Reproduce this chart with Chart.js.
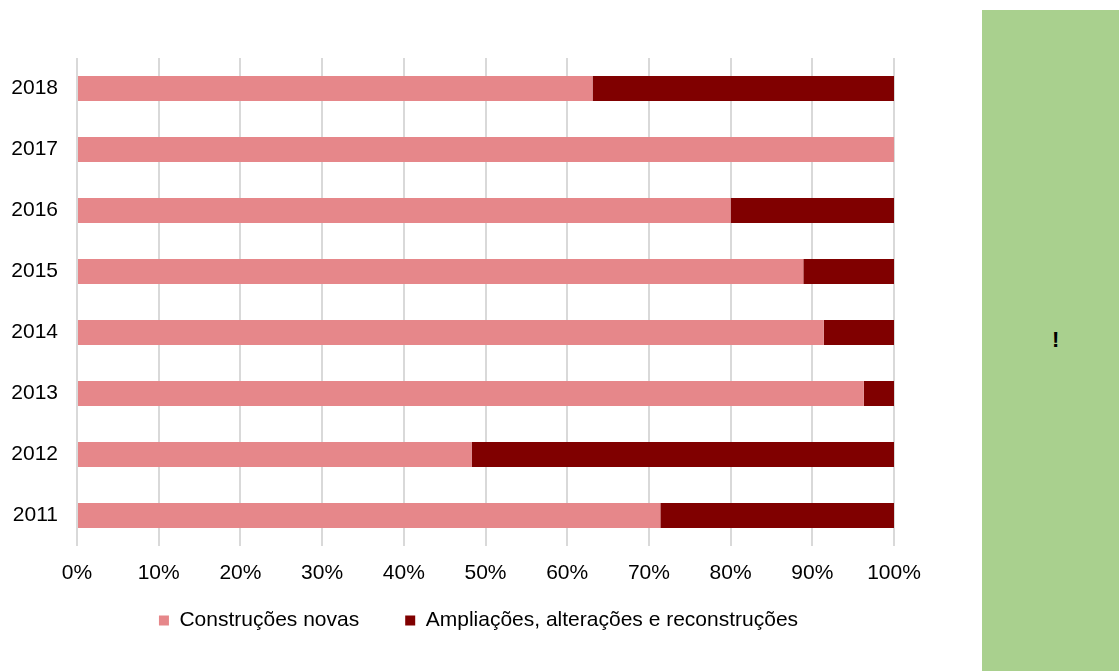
<!DOCTYPE html>
<html>
<head>
<meta charset="utf-8">
<script src="https://cdn.jsdelivr.net/npm/chart.js@4"></script>
<style>
  body { margin: 0; background: #fff; width: 1119px; height: 671px; overflow: hidden; position: relative; font-family: "Liberation Sans", Arial, sans-serif; }
  #wrap { position: absolute; left: 0; top: 0; width: 960px; height: 671px; }
  #side { position: absolute; left: 982px; top: 10px; width: 137px; height: 661px; background: #a9d08e; }
  #side span { position: absolute; left: 70px; top: 319px; font-size: 22px; line-height: 1; font-weight: bold; color: #000; }
</style>
</head>
<body>
<div id="wrap"><canvas id="chart"></canvas></div>
<div id="side"><span>!</span></div>
<script>
// anos, de cima para baixo
const anos = ['2018', '2017', '2016', '2015', '2014', '2013', '2012', '2011'];
const novas = [63.1, 100, 80.0, 88.9, 91.4, 96.3, 48.3, 71.4];
const ampliacoes = [36.9, 0, 20.0, 11.1, 8.6, 3.7, 51.7, 28.6];
const tickPercent = [0, 10, 20, 30, 40, 50, 60, 70, 80, 90, 100];

Chart.defaults.font.family = '"Liberation Sans", Arial, sans-serif';
Chart.defaults.font.size = 21;
Chart.defaults.color = '#000';

// centra a legenda por baixo da área do gráfico e sobe-a um pouco
const legendaAjuste = {
  id: 'legendaAjuste',
  afterLayout(chart, args, opts) {
    const lg = chart.legend, ca = chart.chartArea;
    const dx = (ca.left + ca.right) / 2 - (lg.left + lg.right) / 2 + opts.dx;
    lg.left += dx; lg.right += dx;
    lg.top += opts.dy; lg.bottom += opts.dy;
  }
};

new Chart(document.getElementById('chart'), {
  type: 'bar',
  data: {
    labels: anos,
    datasets: [
      { label: 'Construções novas', data: novas, backgroundColor: '#e6878a', barPercentage: 0.41, categoryPercentage: 1 },
      { label: 'Ampliações, alterações e reconstruções', data: ampliacoes, backgroundColor: '#800000', barPercentage: 0.41, categoryPercentage: 1 }
    ]
  },
  plugins: [legendaAjuste],
  options: {
    indexAxis: 'y',
    responsive: true,
    maintainAspectRatio: false,
    animation: false,
    layout: { padding: { top: 58, left: 0, right: 66, bottom: 0 } },
    plugins: {
      tooltip: { enabled: false },
      legendaAjuste: { dx: -7, dy: -30 },
      legend: {
        position: 'bottom',
        labels: { boxWidth: 10, boxHeight: 10, padding: 46, color: '#000' }
      }
    },
    scales: {
      x: {
        stacked: true,
        min: 0,
        max: 100,
        afterBuildTicks: s => { s.ticks = tickPercent.map(v => ({ value: v })); },
        afterFit: s => { s.height = 48; },
        ticks: { callback: v => v + '%', padding: 15, maxRotation: 0 },
        grid: { color: '#d9d9d9', lineWidth: 2, drawTicks: false },
        border: { display: false }
      },
      y: {
        stacked: true,
        afterFit: s => { s.width = 77; },
        ticks: { padding: 19 },
        grid: { display: false, drawTicks: false },
        border: { display: false }
      }
    }
  }
});
</script>
</body>
</html>
